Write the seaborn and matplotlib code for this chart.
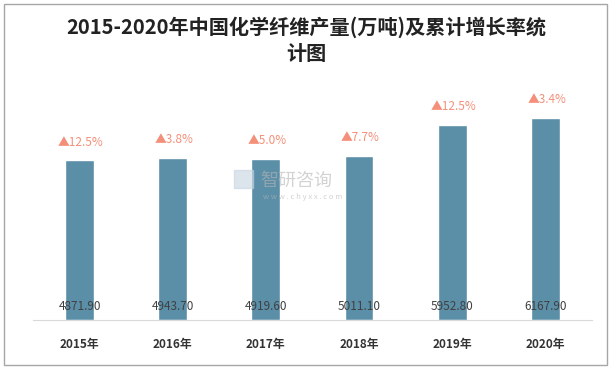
import matplotlib
matplotlib.use("Agg")
import matplotlib.pyplot as plt
import pandas as pd
import seaborn as sns
from matplotlib.patches import Rectangle

years = ["2015年", "2016年", "2017年", "2018年", "2019年", "2020年"]
output = [4871.90, 4943.70, 4919.60, 5011.10, 5952.80, 6167.90]
growth = ["12.5%", "3.8%", "5.0%", "7.7%", "12.5%", "3.4%"]

df = pd.DataFrame({"year": years, "output": output})

sns.set_style("white")
plt.rcParams["font.family"] = ["Noto Sans CJK SC", "DejaVu Sans"]

fig = plt.figure(figsize=(6.12, 3.69), dpi=100)
ax = fig.add_axes([0.054, 0.133, 0.913, 0.622])

sns.barplot(data=df, x="year", y="output", color="#5B8FA8", width=0.31,
            saturation=1, ax=ax)

ax.set_xlim(-0.5, 5.5)
ax.set_ylim(0, 7000)
ax.set_xlabel("")
ax.set_ylabel("")
ax.set_yticks([])
for s in ["top", "right", "left"]:
    ax.spines[s].set_visible(False)
ax.spines["bottom"].set_color("#d9d9d9")
ax.tick_params(axis="x", length=0, pad=13)
for lab in ax.get_xticklabels():
    lab.set_fontsize(8.5)
    lab.set_fontweight("bold")
    lab.set_color("#333333")

for i, p in enumerate(ax.patches):
    cx = p.get_x() + p.get_width() / 2
    ax.annotate(f"{output[i]:.2f}", xy=(cx, 0), xytext=(0, 10),
                textcoords="offset points", ha="center", va="center",
                fontsize=8.5, color="#404040")
    ax.annotate("▲" + growth[i], xy=(cx, p.get_height()), xytext=(1, 13),
                textcoords="offset points", ha="center", va="center",
                fontsize=8.5, color="#F4907A")

# watermark
fig.text(0.425, 0.51, "智研咨询", fontsize=13, color="#b5b5b5", alpha=0.6,
         ha="left", va="center")
fig.text(0.43, 0.465, "w w w . c h y x x . c o m", fontsize=5.5, color="#b5b5b5",
         alpha=0.6, ha="left", va="center")
fig.patches.append(Rectangle((0.383, 0.49), 0.03, 0.05, transform=fig.transFigure,
                             color="#c5d3e0", alpha=0.6))

fig.text(0.5, 0.925, "2015-2020年中国化学纤维产量(万吨)及累计增长率统",
         fontsize=14.5, fontweight="bold", color="#222222", ha="center", va="center")
fig.text(0.5, 0.855, "计图", fontsize=14.5, fontweight="bold", color="#222222",
         ha="center", va="center")

fig.patches.append(Rectangle((0.007, 0.01), 0.985, 0.98, transform=fig.transFigure,
                             fill=False, edgecolor="#a6a6a6", linewidth=1))

fig.savefig("out.png", dpi=100)
